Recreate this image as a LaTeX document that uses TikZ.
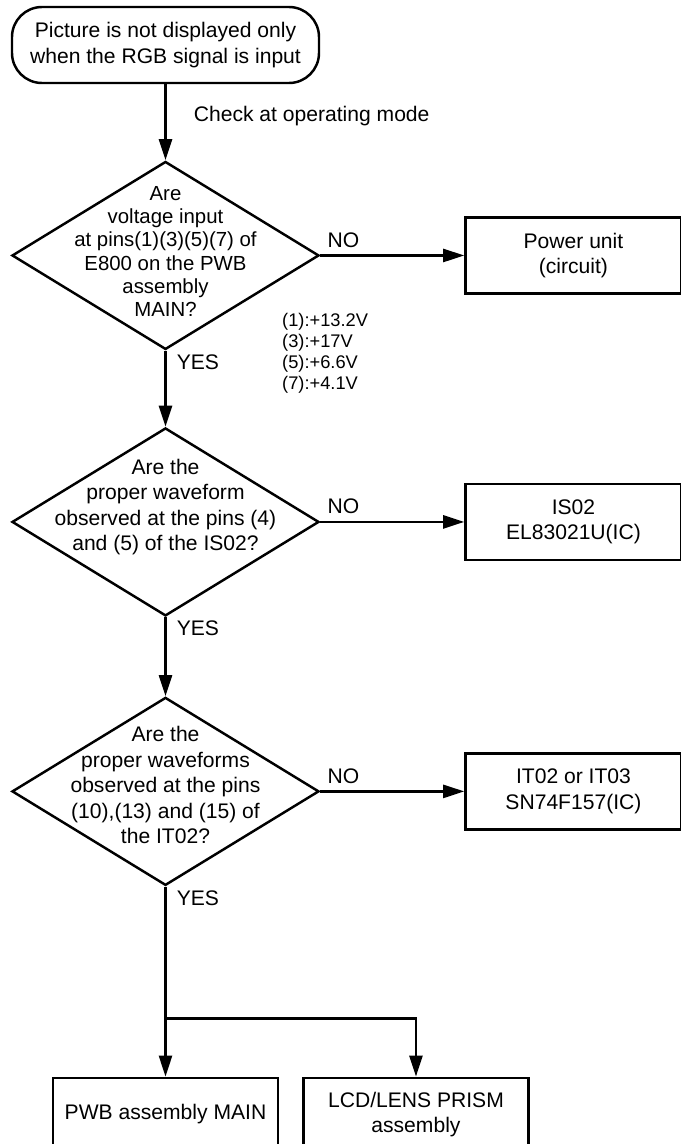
\documentclass[tikz,border=0pt]{standalone}
\usepackage{fontspec}
\setmainfont{Liberation Sans}
\usetikzlibrary{shapes.geometric, arrows.meta, positioning, calc}

\begin{document}
\begin{tikzpicture}[
    node distance=1.52cm and 2.88cm,
    >={Triangle[length=0.42cm, width=0.26cm]},
    line width=1.4pt,
    % Node Styles
    term/.style={rectangle, rounded corners=0.6cm, draw=black, minimum width=6.14cm, minimum height=1.52cm, align=center, font=\fontsize{12}{15.3}\selectfont},
    dec/.style={diamond, draw=black, minimum width=6.14cm, minimum height=3.76cm, inner sep=0pt},
    qtext/.style={align=center, inner sep=0pt, font=\fontsize{12}{14.5}\selectfont},
    res/.style={rectangle, draw=black, minimum width=4.32cm, minimum height=1.52cm, align=center, font=\fontsize{12}{14.5}\selectfont},
    part/.style={res, minimum width=4.5cm, minimum height=1.46cm},
    lbl/.style={font=\fontsize{12}{14.5}\selectfont, inner sep=1.5pt},
    note/.style={align=left, inner sep=0pt, font=\fontsize{10.4}{11.9}\selectfont}
]
\useasboundingbox (0,0) rectangle (13.62,-22.88);

% --- 1. Start ---
\node[term] (start) at (3.31,-0.9) {Picture is not displayed only\\when the RGB signal is input};

% --- 2. Decisions (vertical chain) ---
\node[dec, below=1.52cm of start] (d1) {};
\node[qtext, font=\fontsize{11.6}{13.3}\selectfont] (q1) at ([yshift=0.08cm]d1.center) {Are\\voltage input\\at pins(1)(3)(5)(7) of\\E800 on the PWB\\assembly\\MAIN?};

\node[dec, below=1.52cm of d1] (d2) {};
\node[qtext] (q2) at ([yshift=0.3cm]d2.center) {Are the\\proper waveform\\observed at the pins (4)\\and (5) of the IS02?};

\node[dec, below=1.58cm of d2] (d3) {};
\node[qtext] (q3) at ([yshift=0.12cm]d3.center) {Are the\\proper waveforms\\observed at the pins\\(10),(13) and (15) of\\the IT02?};

% --- 3. Right Side (NO results) ---
\node[res, right=2.88cm of d1] (power) {Power unit\\(circuit)};
\node[res, right=2.88cm of d2] (is02) {IS02\\EL83021U(IC)};
\node[res, right=2.88cm of d3] (it02) {IT02 or IT03\\SN74F157(IC)};

% voltages at E800
\node[note, anchor=west] (volts) at (5.62,-7.07) {(1):+13.2V\\(3):+17V\\(5):+6.6V\\(7):+4.1V};

% --- 4. Bottom (YES results) ---
\node[part, below=3.8cm of d3] (pwb) {PWB assembly MAIN};
\node[part, right=0.46cm of pwb] (lcd) {LCD/LENS PRISM\\assembly};
\coordinate (fork) at ([yshift=-2.64cm]d3.south);

% --- Edges ---
\draw[->] (start) -- (d1);
\node[lbl, anchor=west] (check) at ([xshift=0.49cm, yshift=-0.64cm]start.south) {Check at operating mode};

% NO
\draw[->] (d1.east) -- (power.west);
\draw[->] (d2.east) -- (is02.west);
\draw[->] (d3.east) -- (it02.west);
\node[lbl, anchor=south west] (no1) at ([xshift=0.07cm, yshift=0.08cm]d1.east) {NO};
\node[lbl, anchor=south west] (no2) at ([xshift=0.07cm, yshift=0.08cm]d2.east) {NO};
\node[lbl, anchor=south west] (no3) at ([xshift=0.07cm, yshift=0.08cm]d3.east) {NO};

% YES
\draw[->] (d1.south) -- (d2.north);
\draw[->] (d2.south) -- (d3.north);
\draw[->] (d3.south) -- (pwb.north);
\draw[->] (fork) -| (lcd.north);
\node[lbl, anchor=north west] (yes1) at ([xshift=0.15cm]d1.south) {YES};
\node[lbl, anchor=north west] (yes2) at ([xshift=0.15cm]d2.south) {YES};
\node[lbl, anchor=north west] (yes3) at ([xshift=0.15cm]d3.south) {YES};

\end{tikzpicture}
\end{document}
